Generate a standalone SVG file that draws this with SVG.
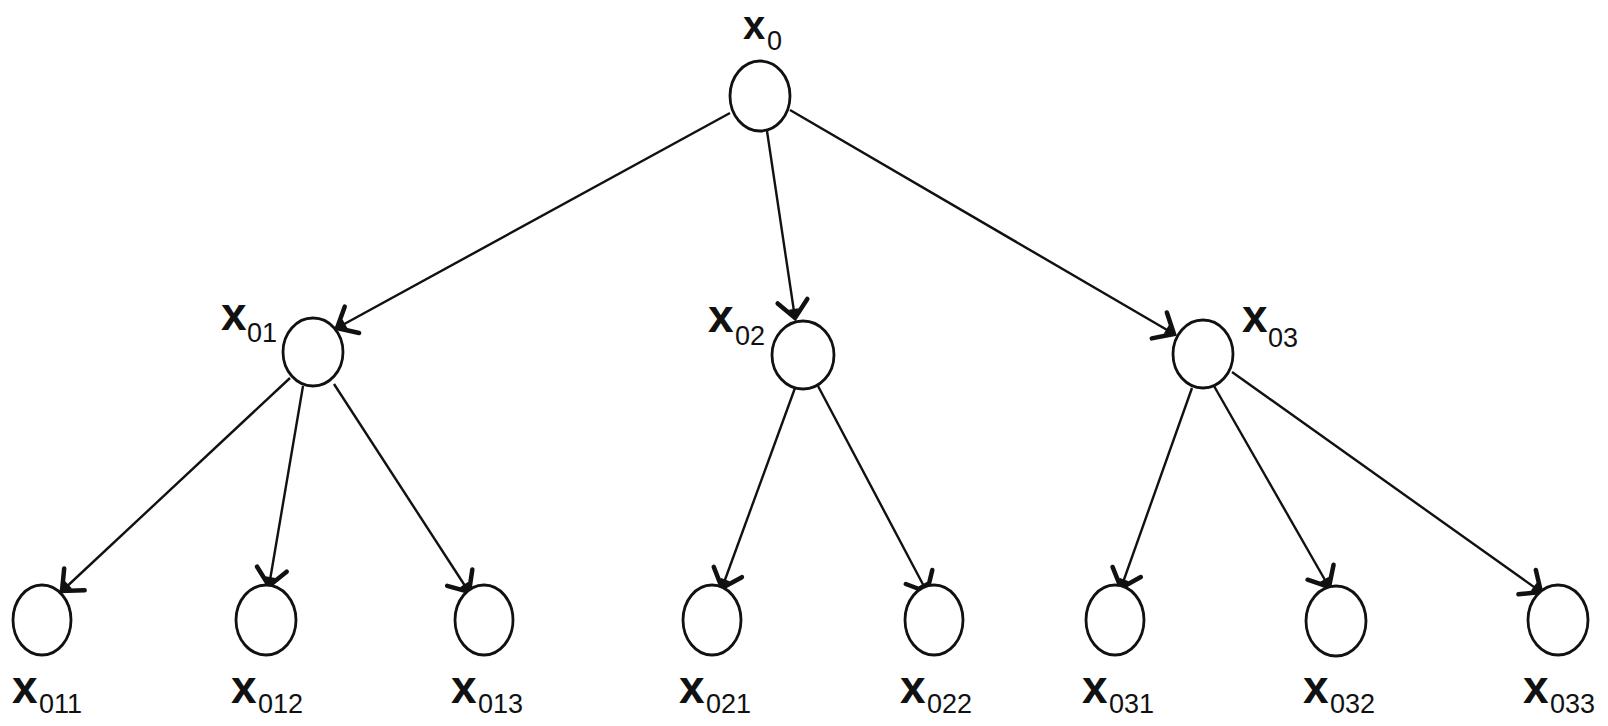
<svg xmlns="http://www.w3.org/2000/svg" width="1608" height="726" viewBox="0 0 1608 726">
<style>
.node{fill:#fff;stroke:#111;stroke-width:2.8}
.edge{stroke:#111;stroke-width:2.4;fill:none}
.lbl{font-family:"Liberation Sans",Arial,sans-serif;fill:#111}
.x{font-size:46px;font-weight:bold}
.x0{font-size:40px;font-weight:bold}
.s{font-size:27px}
</style>
<defs>
<marker id="arr" markerUnits="userSpaceOnUse" markerWidth="40" markerHeight="40" viewBox="-30 -20 40 40" refX="0" refY="0" orient="auto">
<path d="M -17 -15 L 0 0 L -17 15" fill="none" stroke="#111" stroke-width="4.5" stroke-linecap="round" stroke-linejoin="miter"/>
<path d="M -9 -5 L 0 0 L -9 5 Z" fill="#111"/>
</marker>
</defs>
<rect width="1608" height="726" fill="#fff"/>
<g id="connectors">
<line class="edge" x1="730" y1="113" x2="337" y2="328" marker-end="url(#arr)"/>
<line class="edge" x1="767" y1="131" x2="795" y2="318" marker-end="url(#arr)"/>
<line class="edge" x1="790" y1="110" x2="1174" y2="334" marker-end="url(#arr)"/>
<line class="edge" x1="290" y1="378" x2="62" y2="591" marker-end="url(#arr)"/>
<line class="edge" x1="303" y1="386" x2="269" y2="586" marker-end="url(#arr)"/>
<line class="edge" x1="334" y1="384" x2="469" y2="592" marker-end="url(#arr)"/>
<line class="edge" x1="795" y1="388" x2="722" y2="588" marker-end="url(#arr)"/>
<line class="edge" x1="818" y1="386" x2="927" y2="592" marker-end="url(#arr)"/>
<line class="edge" x1="1192" y1="388" x2="1121" y2="588" marker-end="url(#arr)"/>
<line class="edge" x1="1214" y1="386" x2="1329" y2="587" marker-end="url(#arr)"/>
<line class="edge" x1="1232" y1="372" x2="1541" y2="592" marker-end="url(#arr)"/>
</g>
<g id="n0"><ellipse class="node" cx="760" cy="96" rx="30" ry="35"/>
<text class="lbl" x="743" y="39"><tspan class="x0">x</tspan><tspan class="s" x="767" y="50">0</tspan></text></g>
<g id="n01"><ellipse class="node" cx="313" cy="352" rx="30" ry="34"/>
<text class="lbl" x="221" y="330"><tspan class="x">x</tspan><tspan class="s" x="247" y="342">01</tspan></text></g>
<g id="n02"><ellipse class="node" cx="803" cy="355" rx="31" ry="34"/>
<text class="lbl" x="708" y="332"><tspan class="x">x</tspan><tspan class="s" x="735" y="345">02</tspan></text></g>
<g id="n03"><ellipse class="node" cx="1203" cy="354" rx="30" ry="34"/>
<text class="lbl" x="1242" y="332"><tspan class="x">x</tspan><tspan class="s" x="1268" y="347">03</tspan></text></g>
<g id="n011"><ellipse class="node" cx="42" cy="620" rx="29" ry="35"/>
<text class="lbl" x="12" y="703"><tspan class="x">x</tspan><tspan class="s" x="39" y="713">011</tspan></text></g>
<g id="n012"><ellipse class="node" cx="266" cy="620" rx="30" ry="35"/>
<text class="lbl" x="231" y="703"><tspan class="x">x</tspan><tspan class="s" x="258" y="713">012</tspan></text></g>
<g id="n013"><ellipse class="node" cx="484" cy="620" rx="29" ry="35"/>
<text class="lbl" x="451" y="703"><tspan class="x">x</tspan><tspan class="s" x="478" y="713">013</tspan></text></g>
<g id="n021"><ellipse class="node" cx="712" cy="620" rx="29" ry="35"/>
<text class="lbl" x="679" y="703"><tspan class="x">x</tspan><tspan class="s" x="706" y="713">021</tspan></text></g>
<g id="n022"><ellipse class="node" cx="934" cy="620" rx="29" ry="35"/>
<text class="lbl" x="900" y="703"><tspan class="x">x</tspan><tspan class="s" x="927" y="713">022</tspan></text></g>
<g id="n031"><ellipse class="node" cx="1115" cy="620" rx="29" ry="35"/>
<text class="lbl" x="1082" y="703"><tspan class="x">x</tspan><tspan class="s" x="1109" y="713">031</tspan></text></g>
<g id="n032"><ellipse class="node" cx="1336" cy="621" rx="30" ry="35"/>
<text class="lbl" x="1303" y="703"><tspan class="x">x</tspan><tspan class="s" x="1330" y="713">032</tspan></text></g>
<g id="n033"><ellipse class="node" cx="1558" cy="620" rx="30" ry="35"/>
<text class="lbl" x="1523" y="703"><tspan class="x">x</tspan><tspan class="s" x="1550" y="713">033</tspan></text></g>
</svg>
